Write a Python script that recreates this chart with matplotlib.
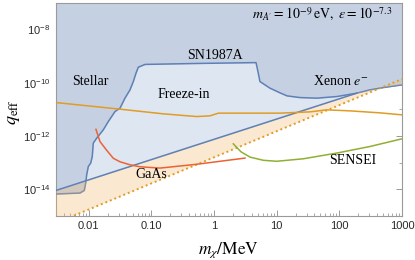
import numpy as np
import matplotlib
matplotlib.use("Agg")
import matplotlib.pyplot as plt
from matplotlib.ticker import FixedLocator, NullFormatter

plt.rcParams['mathtext.fontset'] = 'custom'
plt.rcParams['mathtext.rm'] = 'Liberation Sans'
plt.rcParams['mathtext.it'] = 'Liberation Sans:italic'
plt.rcParams['font.family'] = 'Liberation Sans'

# all values, stored as log10
# lower edge of the excluded region (stellar -> SN1987A -> Xenon e-)
bound_logm = [-2.523, -2.140, -2.071, -2.049, -2.033, -2.007, -1.969, -1.944, -1.928,
              -1.873, -1.768, -1.688, -1.581, -1.501, -1.422, -1.342, -1.289, -1.246,
              -1.209, -1.102, -0.224, 0.670, 0.706, 0.733, 0.893, 1.053, 1.164, 1.372,
              1.639, 1.958, 2.277, 2.489, 2.702, 3.0]
bound_logq = [-14.185, -14.148, -14.050, -13.772, -13.460, -13.149, -13.021, -12.773, -12.270,
              -12.082, -11.770, -11.458, -11.083, -10.955, -10.579, -10.268, -9.956, -9.640,
              -9.415, -9.310, -9.272, -9.242, -9.640, -9.956, -10.204, -10.380, -10.493, -10.557,
              -10.579, -10.519, -10.392, -10.268, -10.181, -10.080]

# freeze-in line (lower edge of light blue region)
fi_logm = [-2.523, 2.277]
fi_logq = [-14.05, -10.392]

# dotted orange line
dot_logm = [-2.523, 3.0]
dot_logq = [-15.28, -9.86]

# solid orange line
or_logm = [-2.523, -1.501, -0.810, -0.277, -0.065, 0.068, 1.053, 1.532, 1.798, 2.170, 2.649, 3.0]
or_logq = [-10.745, -10.993, -11.169, -11.271, -11.244, -11.143, -11.143, -11.094, -11.019,
           -11.057, -11.132, -11.207]

# GaAs
gaas_logm = [-1.885, -1.821, -1.714, -1.608, -1.501, -1.342, -1.182, -0.863, -0.277, 0.494]
gaas_logq = [-11.751, -12.210, -12.540, -12.841, -12.972, -13.085, -13.160, -13.209, -13.066, -12.833]

# SENSEI
sensei_logm = [0.307, 0.430, 0.574, 0.786, 1.000, 1.425, 1.958, 2.489, 3.0]
sensei_logq = [-12.296, -12.597, -12.796, -12.916, -12.953, -12.859, -12.645, -12.397, -12.108]

blue = '#5e81b5'
orange = '#e09c24'
green = '#8fb032'
red = '#eb6235'
dark = '#c5d1e3'
light = '#dee6f1'

top = 1e-7
bm, bq = 10**np.array(bound_logm), 10**np.array(bound_logq)
fm, fq = 10**np.array(fi_logm), 10**np.array(fi_logq)
dm, dq = 10**np.array(dot_logm), 10**np.array(dot_logq)

fig = plt.figure(figsize=(4.15, 2.6), dpi=100)
ax = fig.add_axes([56/415, 1-215.7/260, 346/415, 212.7/260])
ax.set_xscale('log')
ax.set_yscale('log')
ax.set_xlim(0.003, 1000)
ax.set_ylim(1e-15, 1e-7)

ax.fill_between(fm, fq, top, color=light, lw=0, zorder=1)
ax.fill_between(bm, bq, top, color=dark, lw=0, zorder=2)
ax.plot(bm, bq, color=blue, lw=1.1, zorder=3)

tail = bm > fm[-1]
px = np.concatenate([fm, bm[tail], dm[::-1]])
py = np.concatenate([fq, bq[tail], dq[::-1]])
ax.fill(px, py, color=(242/255, 182/255, 105/255), alpha=0.3, lw=0, zorder=4)

ax.plot(fm, fq, color=blue, lw=1.1, zorder=5)
ax.plot(dm, dq, color=orange, lw=1.4, ls=(0, (1, 1.5)), zorder=5)
ax.plot(10**np.array(or_logm), 10**np.array(or_logq), color=orange, lw=1.1, zorder=5)
ax.plot(10**np.array(gaas_logm), 10**np.array(gaas_logq), color=red, lw=1.1, zorder=5)
ax.plot(10**np.array(sensei_logm), 10**np.array(sensei_logq), color=green, lw=1.1, zorder=5)

serif = dict(family='Liberation Serif', fontsize=10, ha='center', va='center', zorder=6)
ax.text(10**-1.98, 10**-9.97, 'Stellar', **serif)
ax.text(10**0.01, 10**-8.97, 'SN1987A', **serif)
ax.text(10**-0.49, 10**-10.45, 'Freeze-in', **serif)
ax.text(10**2.015, 10**-9.95, r'Xenon $e^{-}$', math_fontfamily='stix', **serif)
ax.text(10**-0.995, 10**-13.46, 'GaAs', **serif)
ax.text(10**2.218, 10**-12.93, 'SENSEI', **serif)
ax.text(0.971, 0.948, r"$m_{A^{\prime}} = 10^{-9}\,\mathrm{eV},\ \epsilon = 10^{-7.3}$",
        transform=ax.transAxes, family='Liberation Serif', fontsize=10,
        math_fontfamily='stix', ha='right', va='center', zorder=6)

xt = [0.01, 0.1, 1, 10, 100, 1000]
ax.xaxis.set_major_locator(FixedLocator(xt))
ax.set_xticklabels(['0.01', '0.10', '1', '10', '100', '1000'])
xminor = [k * 10.0**e for e in range(-3, 3) for k in range(2, 10)]
ax.xaxis.set_minor_locator(FixedLocator(xminor))
ax.xaxis.set_minor_formatter(NullFormatter())
yt = [1e-14, 1e-12, 1e-10, 1e-8]
ax.yaxis.set_major_locator(FixedLocator(yt))
ax.set_yticklabels([r'$10^{-14}$', r'$10^{-12}$', r'$10^{-10}$', r'$10^{-8}$'])
ax.yaxis.set_minor_locator(FixedLocator([1e-15, 1e-13, 1e-11, 1e-9]))
ax.yaxis.set_minor_formatter(NullFormatter())

ax.tick_params(which='both', direction='in', top=True, right=True, color='#9a9a9a',
               labelsize=8, labelcolor='#2a2a2a', pad=4)
ax.tick_params(which='major', length=4, width=0.7)
ax.tick_params(which='minor', length=2.2, width=0.6)
for s in ax.spines.values():
    s.set_color('#9a9a9a')
    s.set_linewidth(0.8)

fig.text(229/415, 1-250/260, r'$m_\chi/\mathrm{MeV}$', family='Liberation Serif', fontsize=12.5,
         math_fontfamily='stix', ha='center', va='center')
fig.text(14/415, 1-112/260, r'$q_\mathrm{eff}$', family='Liberation Serif', fontsize=13,
         math_fontfamily='stix', ha='center', va='center', rotation=90)

fig.savefig('out.png', dpi=100)
